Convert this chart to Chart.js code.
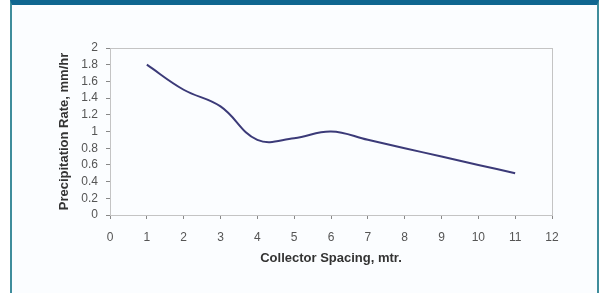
<!DOCTYPE html>
<html>
<head>
<meta charset="utf-8">
<script src="https://cdn.jsdelivr.net/npm/chart.js@4"></script>
<style>
  html, body { margin: 0; padding: 0; background: #ffffff; }
  #frame {
    position: absolute; left: 10px; top: 0; width: 589px; height: 293px;
    background: #fbfdff;
    border-left: 2px solid #3f8d9c;
    border-right: 2px solid #3f8d9c;
    border-top: 5px solid #0f6690;
    box-sizing: border-box;
  }
  #wrap { position: absolute; left: 0; top: 0; width: 602px; height: 293px; }
</style>
</head>
<body>
<div id="frame"></div>
<div id="wrap"><canvas id="chart" width="602" height="293"></canvas></div>
<script>
// collector spacing (m) and precipitation rate (mm/hr)
const spacing = [1, 2, 3, 4, 5, 6, 7, 8, 9, 10, 11];
const rate = [1.8, 1.5, 1.3, 0.9, 0.92, 1.0, 0.9, 0.8, 0.7, 0.6, 0.5];

const xTitle = 'Collector Spacing, mtr.';
const yTitle = 'Precipitation Rate, mm/hr';

// light grey frame around the plot area
const plotBorder = {
    id: 'plotBorder',
    afterDraw(chart) {
        const { ctx, chartArea: a } = chart;
        ctx.save();
        ctx.strokeStyle = '#c4c4c4';
        ctx.lineWidth = 1;
        ctx.strokeRect(a.left + 0.5, a.top + 0.5, a.right - a.left, a.bottom - a.top);
        ctx.restore();
    }
};

const tickFont = { family: 'Liberation Sans', size: 12 };
const titleFont = { family: 'Liberation Sans', size: 13, weight: 'bold' };

new Chart(document.getElementById('chart'), {
    type: 'line',
    data: {
        datasets: [{
            data: spacing.map((x, i) => ({ x: x, y: rate[i] })),
            borderColor: '#3b3a78',
            borderWidth: 2,
            tension: 0.4,
            pointRadius: 0,
            fill: false
        }]
    },
    options: {
        responsive: false,
        animation: false,
        layout: { padding: { left: 53, top: 48, right: 50, bottom: 27 } },
        plugins: { legend: { display: false }, tooltip: { enabled: false } },
        scales: {
            x: {
                type: 'linear',
                min: 0, max: 12,
                afterFit: s => { s.height = 51; },
                ticks: { stepSize: 1, autoSkip: false, color: '#555', padding: 11, font: tickFont },
                grid: { display: true, drawOnChartArea: false, drawTicks: true, tickLength: 4, tickColor: '#888' },
                border: { display: true, color: '#888' },
                title: { display: true, text: xTitle, color: '#333', padding: 0, font: titleFont }
            },
            y: {
                min: 0, max: 2,
                afterFit: s => { s.width = 57; },
                ticks: {
                    stepSize: 0.2, autoSkip: false, color: '#555', padding: 8, font: tickFont,
                    callback: v => String(Math.round(v * 10) / 10)
                },
                grid: { display: true, drawOnChartArea: false, drawTicks: true, tickLength: 4, tickColor: '#888' },
                border: { display: true, color: '#888' },
                title: { display: true, text: yTitle, color: '#333', padding: { top: 4, bottom: 0 }, font: titleFont }
            }
        }
    },
    plugins: [plotBorder]
});
</script>
</body>
</html>
